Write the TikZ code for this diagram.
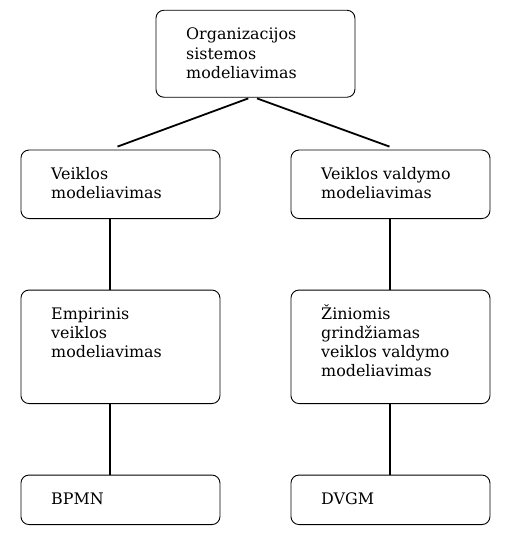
\documentclass[tikz,border=0pt]{standalone}
\usepackage{fontspec}
\setmainfont{DejaVu Serif}
\usetikzlibrary{calc}
\begin{document}
\begin{tikzpicture}[x=1pt,y=-1pt,
  box/.style={draw=black,line width=0.9pt,rounded corners=8pt,anchor=north west,inner sep=0pt},
  txt/.style={anchor=base west,align=left,inner sep=0pt,font=\fontsize{15.9}{19.1}\selectfont},
  conn/.style={line width=1.8pt}]
\useasboundingbox (0,0) rectangle (504,540);
% boxes
\node[box,minimum width=199pt,minimum height=87pt] (top) at (155.5,9.8) {};
\node[box,minimum width=199pt,minimum height=68.5pt] (l1) at (20.5,149.6) {};
\node[box,minimum width=199pt,minimum height=68.5pt] (r1) at (290.5,149.6) {};
\node[box,minimum width=199pt,minimum height=113.5pt] (l2) at (20.5,289.6) {};
\node[box,minimum width=199pt,minimum height=113.5pt] (r2) at (290.5,289.6) {};
\node[box,minimum width=199pt,minimum height=49.5pt] (l3) at (20.5,474.6) {};
\node[box,minimum width=199pt,minimum height=49.5pt] (r3) at (290.5,474.6) {};
% texts (anchor at baseline of the last line)
\node[txt] (ttop) at ($(top.north west)+(30.5,68.4)$) {Organizacijos\\sistemos\\modeliavimas};
\node[txt] (tl1) at ($(l1.north west)+(30.5,48.8)$) {Veiklos\\modeliavimas};
\node[txt] (tr1) at ($(r1.north west)+(30.5,48.8)$) {Veiklos valdymo\\modeliavimas};
\node[txt] (tl2) at ($(l2.north west)+(30.5,67.9)$) {Empirinis\\veiklos\\modeliavimas};
\node[txt] (tr2) at ($(r2.north west)+(30.5,87)$) {Žiniomis\\grindžiamas\\veiklos valdymo\\modeliavimas};
\node[txt] (tl3) at ($(l3.north west)+(30.5,30.2)$) {BPMN};
\node[txt] (tr3) at ($(r3.north west)+(30.5,30.2)$) {DVGM};
% connectors
\coordinate (tA) at ($(top.south west)+(92.8,0.7)$);
\coordinate (tB) at ($(top.south west)+(101.5,0.7)$);
\coordinate (eL) at ($(l1.north west)+(97,-3)$);
\coordinate (eR) at ($(r1.north west)+(99,-3)$);
\draw[conn] (tA) -- (eL);
\draw[conn] (tB) -- (eR);
\draw[conn] ($(l1.south west)+(89.5,0)$) -- ($(l2.north west)+(89.5,0)$);
\draw[conn] ($(r1.south west)+(99.5,0)$) -- ($(r2.north west)+(99.5,0)$);
\draw[conn] ($(l2.south west)+(89.5,0)$) -- ($(l3.north west)+(89.5,0)$);
\draw[conn] ($(r2.south west)+(99.5,0)$) -- ($(r3.north west)+(99.5,0)$);
\end{tikzpicture}
\end{document}
